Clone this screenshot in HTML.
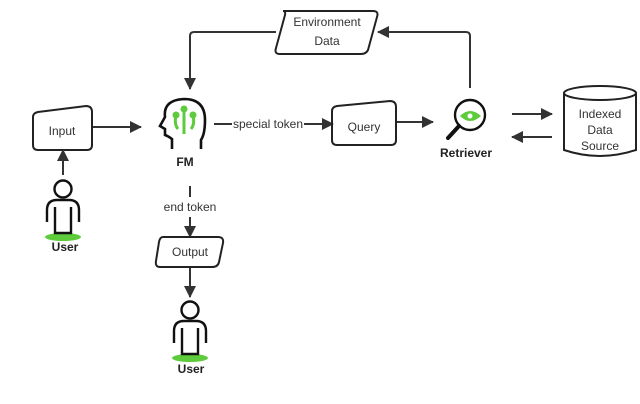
<!DOCTYPE html>
<html><head><meta charset="utf-8"><style>
html,body{margin:0;padding:0;background:#fff;}
svg{display:block;font-family:"Liberation Sans","DejaVu Sans",sans-serif;}
</style></head><body>
<svg width="640" height="404" viewBox="0 0 640 404" xmlns="http://www.w3.org/2000/svg">
<defs>
<marker id="a" markerWidth="12" markerHeight="12" refX="11" refY="6" orient="auto" markerUnits="userSpaceOnUse">
<path d="M0,0 L12,6 L0,12 z" fill="#333"/></marker>
</defs>
<g fill="none" stroke="#333" stroke-width="2">
<path d="M283,11 H373 Q379,11 377,17 L368,50 Q366,54 361,54 H280 Q274,54 276,48 L285,15 Q286,11 283,11 Z" stroke="#222"/>
<path d="M276,32 H194 Q190,32 190,36 V89" marker-end="url(#a)"/>
<path d="M470,88 V36 Q470,32 466,32 H378" marker-end="url(#a)"/>
<path d="M38,112 L86,106 Q92,106 92,112 V145 Q92,150 87,150 H38 Q33,150 33,145 V117 Q33,113 38,112 Z" stroke="#222"/>
<path d="M93,127 H141" marker-end="url(#a)"/>
<path d="M63,175 V150" marker-end="url(#a)"/>
<path d="M214,124 H232"/>
<path d="M304,124 H333" marker-end="url(#a)"/>
<path d="M337,106 L390,101 Q396,101 396,107 V140 Q396,145 391,145 H337 Q332,145 332,140 V111 Q332,107 337,106 Z" stroke="#222"/>
<path d="M397,122 H433" marker-end="url(#a)"/>
<path d="M512,114 H552" marker-end="url(#a)"/>
<path d="M552,137 H512" marker-end="url(#a)"/>
<path d="M564,93 V150 Q600,162 636,150 V93" stroke="#222"/>
<ellipse cx="600" cy="93" rx="36" ry="7" stroke="#222"/>
<path d="M190,186 V197"/>
<path d="M190,217 V237" marker-end="url(#a)"/>
<path d="M163,237 H218 Q224,237 223,243 L219,262 Q218,267 212,267 H160 Q155,267 156,261 L159,242 Q160,237 163,237 Z" stroke="#222"/>
<path d="M190,268 V297" marker-end="url(#a)"/>
</g>
<g fill="none" stroke="#111" stroke-width="2.6">
<path d="M172,149 V139 Q168,136 165,135 L165,129 L160,126 L165,117 Q163,100 184,99 Q205,99 205,120 Q205,134 201,140 V149"/>
</g>
<g fill="none" stroke="#5ecb3c" stroke-width="3">
<path d="M184,134 V110"/><path d="M178,129 Q174,124 176,116"/><path d="M191,129 Q195,124 193,116"/>
</g>
<g fill="#5ecb3c"><circle cx="184" cy="109" r="3.5"/><circle cx="176" cy="115" r="3.5"/><circle cx="193" cy="115" r="3.5"/></g>
<circle cx="470" cy="115" r="15" fill="none" stroke="#111" stroke-width="2.4"/>
<path d="M459,126 L448,138" stroke="#111" stroke-width="4" stroke-linecap="round"/>
<path d="M460,116 Q470,106 481,116 Q470,126 460,116 Z" fill="#5ecb3c"/>
<circle cx="470" cy="116" r="2.5" fill="#fff"/>
<g>
<ellipse cx="63" cy="237" rx="18" ry="4" fill="#5ecb3c"/>
<circle cx="63" cy="189" r="8.5" fill="none" stroke="#111" stroke-width="2.4"/>
<path d="M47,222 V210 Q47,200 57,200 H69 Q79,200 79,210 V222" fill="none" stroke="#111" stroke-width="2.4"/>
<path d="M55,207 V233 H71 V207" fill="none" stroke="#111" stroke-width="2.4"/>
</g>
<g transform="translate(127,121)">
<ellipse cx="63" cy="237" rx="18" ry="4" fill="#5ecb3c"/>
<circle cx="63" cy="189" r="8.5" fill="none" stroke="#111" stroke-width="2.4"/>
<path d="M47,222 V210 Q47,200 57,200 H69 Q79,200 79,210 V222" fill="none" stroke="#111" stroke-width="2.4"/>
<path d="M55,207 V233 H71 V207" fill="none" stroke="#111" stroke-width="2.4"/>
</g>
<g fill="#333" font-size="12" text-anchor="middle">
<text x="327" y="26">Environment</text>
<text x="327" y="45">Data</text>
<text x="62" y="135">Input</text>
<text x="268" y="128">special token</text>
<text x="364" y="131">Query</text>
<text x="190" y="211">end token</text>
<text x="190" y="256">Output</text>
<text x="600" y="118">Indexed</text>
<text x="600" y="134">Data</text>
<text x="600" y="150">Source</text>
</g>
<g fill="#222" font-size="12" font-weight="bold" text-anchor="middle">
<text x="185" y="166">FM</text>
<text x="466" y="157">Retriever</text>
<text x="65" y="251">User</text>
<text x="191" y="373">User</text>
</g>
</svg>
</body></html>
